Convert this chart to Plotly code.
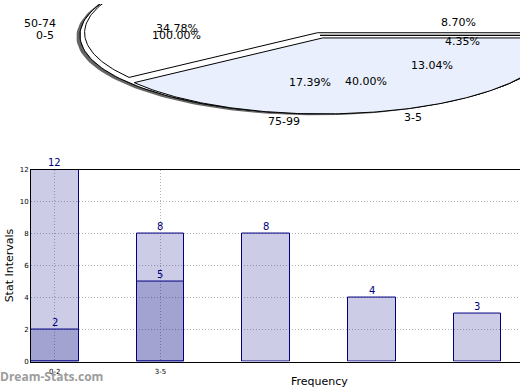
import numpy as np
import plotly.graph_objects as go

# ---------------- data ----------------
bar_tick_labels = ["0-2", "3-5"]
back_values = [12, 8, 8, 4, 3]
front_values = [2, 5]

pie_a_labels = ["0-2", "3-5"]
pie_a_values = [12, 8]
pie_b_labels = ["0-24", "25-49", "50-74", "75-99", "100-124", "125-149"]
pie_b_values = [2, 5, 8, 4, 3, 1]
pie_c_labels = ["0-5"]
pie_c_values = [1]

FONT = "DejaVu Sans"
NAVY = "#000080"

fig = go.Figure()


def wedges(values, radius=1.0, explode=0.0, cx=0.0, cy=0.0):
    vals = np.asarray(values, dtype=float)
    fr = vals / vals.sum()
    out = []
    start = 0.0
    for f in fr:
        t1, t2 = start, start + 360 * f
        mid = np.deg2rad((t1 + t2) / 2)
        ox, oy = cx + explode * np.cos(mid), cy + explode * np.sin(mid)
        th = np.deg2rad(np.linspace(t1, t2, 200))
        xs = np.concatenate([[ox], ox + radius * np.cos(th), [ox]])
        ys = np.concatenate([[oy], oy + radius * np.sin(th), [oy]])
        out.append((xs, ys, f, mid, ox, oy))
        start = t2
    return out


def add_poly(xs, ys, fill, line="black", width=1):
    fig.add_trace(go.Scatter(x=xs, y=ys, mode="lines", fill="toself",
                             fillcolor=fill, line=dict(color=line, width=width),
                             hoverinfo="skip", showlegend=False,
                             xaxis="x2", yaxis="y2"))


annotations = []


def pie_texts(ws, labels, radius=1.0):
    for (xs, ys, f, mid, ox, oy), lab in zip(ws, labels):
        px = ox + 0.6 * radius * np.cos(mid)
        py = oy + 0.6 * radius * np.sin(mid)
        annotations.append(dict(x=px, y=py, xref="x2", yref="y2",
                                text=f"{f*100:.2f}%", showarrow=False,
                                xanchor="center", yanchor="middle",
                                font=dict(family=FONT, size=11, color="black")))
        lx = ox + 1.1 * radius * np.cos(mid)
        ly = oy + 1.1 * radius * np.sin(mid)
        annotations.append(dict(x=lx, y=ly, xref="x2", yref="y2",
                                text=lab, showarrow=False,
                                xanchor="right" if np.cos(mid) < 0 else "left",
                                yanchor="middle",
                                font=dict(family=FONT, size=11, color="black")))


# pie B (underneath)
wb = wedges(pie_b_values)
for xs, ys, *_ in wb:
    add_poly(xs, ys, "white")
# pie C with shadow
wc = wedges(pie_c_values)
for xs, ys, *_ in wc:
    add_poly(xs - 0.015, ys - 0.02, "rgba(50,50,50,0.75)", line="rgba(0,0,0,0)", width=0)
for xs, ys, *_ in wc:
    add_poly(xs, ys, "white")
# pie A on top (exploded)
wa = wedges(pie_a_values, radius=0.97, explode=0.035)
for (xs, ys, *_), col in zip(wa, ["white", "#e9effc"]):
    add_poly(xs, ys, col)

pie_texts(wb, pie_b_labels)
pie_texts(wc, pie_c_labels)
pie_texts(wa, pie_a_labels, radius=0.97)

# ---------------- bars ----------------
for vals in (back_values, front_values):
    fig.add_trace(go.Bar(x=list(range(len(vals))), y=vals, width=0.45,
                         marker=dict(color="rgba(0,0,128,0.2)", line=dict(color=NAVY, width=1)),
                         showlegend=False, hoverinfo="skip"))
    for i, v in enumerate(vals):
        annotations.append(dict(x=i, y=v, xref="x", yref="y", text=str(v),
                                showarrow=False, xanchor="center", yanchor="bottom",
                                yshift=0, font=dict(family=FONT, size=10, color=NAVY)))

annotations.append(dict(x=319 / 520, y=(390 - 385) / 390, xref="paper", yref="paper",
                        text="Frequency", showarrow=False, xanchor="center", yanchor="middle",
                        font=dict(family=FONT, size=11, color="black")))
annotations.append(dict(x=0, y=(390 - 380) / 390, xref="paper", yref="paper",
                        text="<b>Dream-Stats.com</b>", showarrow=False,
                        xanchor="left", yanchor="middle", xshift=-2,
                        font=dict(family="Open Sans", size=12, color="#9c9c9c")))

GRID = "#b4b4b4"
fig.update_layout(
    width=520, height=390, margin=dict(l=0, r=0, t=0, b=0),
    paper_bgcolor="white", plot_bgcolor="white",
    barmode="overlay", bargap=0,
    font=dict(family=FONT, color="black"),
    annotations=annotations,
    xaxis=dict(domain=[31 / 520, 1], range=[-0.225, 4.403],
               tickvals=[0, 1], ticktext=bar_tick_labels,
               tickfont=dict(size=7), ticks="", ticklabelstandoff=3,
               showgrid=True, griddash="1px,2px", gridcolor=GRID, gridwidth=1,
               showline=True, linecolor="black", linewidth=1, mirror=True,
               zeroline=False, anchor="y"),
    yaxis=dict(domain=[25 / 390, 221 / 390], range=[0, 12], tickvals=list(range(0, 13, 2)),
               tickfont=dict(size=7), ticks="",
               showgrid=True, griddash="1px,2px", gridcolor=GRID, gridwidth=1,
               showline=True, linecolor="black", linewidth=1, mirror=False,
               zeroline=False, anchor="x",
               title=dict(text="Stat Intervals", font=dict(size=11), standoff=3)),
    xaxis2=dict(domain=[0, 1], range=[-320 / 240, 200 / 240], visible=False,
                anchor="y2", fixedrange=True),
    yaxis2=dict(domain=[1 - 130 / 390, 1], range=[-98 / 80, 32 / 80], visible=False,
                anchor="x2", fixedrange=True),
)

fig.write_html(
    "out.html", config={"displayModeBar": False},
    post_script=(
        "var s=document.body.style;s.margin='0';s.padding='0';s.overflow='hidden';"
        "var h=document.documentElement.style;h.overflow='hidden';"
    ),
)
